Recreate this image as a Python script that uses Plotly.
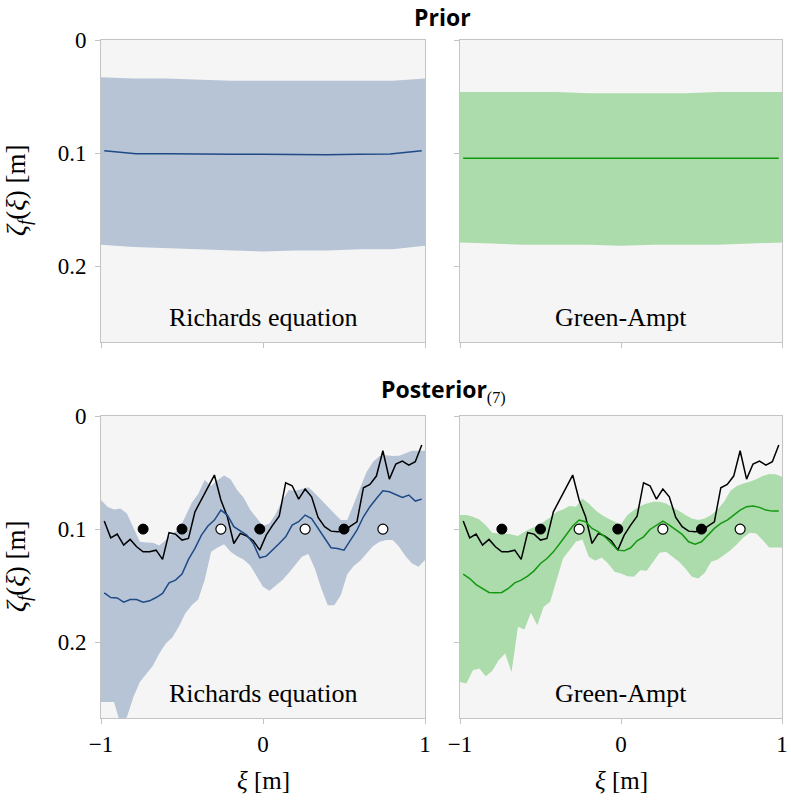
import numpy as np
import plotly.graph_objects as go

# ---------------- data ----------------
x_grid = np.round(np.linspace(-0.98, 0.98, 50), 4)      # cell centres
band_grid = np.round(np.linspace(-1.0, 1.0, 51), 4)     # band nodes
prior_grid = np.round(np.linspace(-1.0, 1.0, 11), 4)
prior_mean_grid = np.round(np.linspace(-0.98, 0.98, 11), 4)

truth = [0.0929, 0.1077, 0.1044, 0.1142, 0.1091, 0.1156, 0.1201, 0.1201, 0.1186, 0.1268,
         0.1032, 0.1044, 0.1097, 0.1083, 0.0847, 0.0743, 0.0631, 0.0522, 0.0743, 0.0891,
         0.1127, 0.1038, 0.1062, 0.1103, 0.1186, 0.1053, 0.0965, 0.0885, 0.0590, 0.0617,
         0.0735, 0.0646, 0.0714, 0.0897, 0.0979, 0.1018, 0.1024, 0.1018, 0.0973, 0.0935,
         0.0634, 0.0605, 0.0531, 0.0307, 0.0558, 0.0425, 0.0398, 0.0434, 0.0404, 0.0257]

obs_used_x = [-0.74, -0.50, -0.02, 0.50]
obs_used_y = [0.1, 0.1, 0.1, 0.1]
obs_test_x = [-0.26, 0.26, 0.74]
obs_test_y = [0.1, 0.1, 0.1]

# Prior
re_prior_mean = [0.098, 0.1005, 0.1005, 0.101, 0.101, 0.101, 0.1015, 0.1015, 0.101, 0.1008, 0.098]
re_prior_hi = [0.033, 0.034, 0.034, 0.035, 0.036, 0.036, 0.036, 0.036, 0.036, 0.036, 0.034]
re_prior_lo = [0.181, 0.183, 0.184, 0.185, 0.186, 0.187, 0.186, 0.186, 0.185, 0.185, 0.182]
ga_prior_mean = [0.1045, 0.1045, 0.1045, 0.105, 0.105, 0.105, 0.105, 0.105, 0.105, 0.1045, 0.1045]
ga_prior_hi = [0.046, 0.046, 0.046, 0.046, 0.047, 0.047, 0.047, 0.047, 0.046, 0.046, 0.046]
ga_prior_lo = [0.179, 0.180, 0.181, 0.181, 0.181, 0.182, 0.181, 0.181, 0.181, 0.180, 0.179]

# Posterior – Richards equation
re_post_mean = [0.1563, 0.1605, 0.1608, 0.1646, 0.1622, 0.1622, 0.1646, 0.1634, 0.1605, 0.1569,
                0.1475, 0.1451, 0.1398, 0.1268, 0.1171, 0.1053, 0.0973, 0.0920, 0.0832, 0.0876,
                0.0979, 0.1018, 0.1053, 0.1127, 0.1254, 0.1239, 0.1186, 0.1127, 0.1068, 0.0965,
                0.0935, 0.0876, 0.0906, 0.0994, 0.1074, 0.1165, 0.1171, 0.1186, 0.1097, 0.1009,
                0.0891, 0.0802, 0.0729, 0.0661, 0.0670, 0.0693, 0.0720, 0.0699, 0.0752, 0.0735]
re_post_hi = [0.0743, 0.0802, 0.0826, 0.0817, 0.0861, 0.0994, 0.1112, 0.1118, 0.1121, 0.1145,
              0.1097, 0.1038, 0.1003, 0.0891, 0.0767, 0.0690, 0.0566, 0.0619, 0.0566, 0.0525,
              0.0560, 0.0655, 0.0720, 0.0826, 0.0897, 0.0973, 0.0950, 0.0861, 0.0743, 0.0655,
              0.0661, 0.0649, 0.0631, 0.0684, 0.0743, 0.0808, 0.0870, 0.0920, 0.0920, 0.0773,
              0.0625, 0.0493, 0.0404, 0.0354, 0.0348, 0.0354, 0.0351, 0.0330, 0.0307, 0.0307, 0.0307]
re_post_lo = [0.2528, 0.2528, 0.2528, 0.2720, 0.2661, 0.2484, 0.2351, 0.2277, 0.2209, 0.2100,
              0.2012, 0.1959, 0.1864, 0.1746, 0.1673, 0.1622, 0.1451, 0.1201, 0.1162, 0.1133,
              0.1201, 0.1239, 0.1268, 0.1319, 0.1416, 0.1510, 0.1546, 0.1496, 0.1451, 0.1386,
              0.1319, 0.1245, 0.1221, 0.1348, 0.1525, 0.1673, 0.1673, 0.1584, 0.1398, 0.1327,
              0.1280, 0.1215, 0.1150, 0.1112, 0.1097, 0.1097, 0.1156, 0.1239, 0.1304, 0.1333, 0.1274]

# Posterior – Green-Ampt
ga_post_mean = [0.1398, 0.1437, 0.1490, 0.1525, 0.1560, 0.1563, 0.1560, 0.1525, 0.1475, 0.1451,
                0.1416, 0.1369, 0.1304, 0.1260, 0.1201, 0.1127, 0.1053, 0.0973, 0.0920, 0.0935,
                0.0994, 0.1024, 0.1068, 0.1127, 0.1186, 0.1192, 0.1165, 0.1103, 0.1068, 0.1003,
                0.0965, 0.0929, 0.0965, 0.1003, 0.1047, 0.1112, 0.1133, 0.1112, 0.1053, 0.0994,
                0.0950, 0.0920, 0.0876, 0.0832, 0.0802, 0.0796, 0.0808, 0.0832, 0.0841, 0.0841]
ga_post_hi = [0.0876, 0.0876, 0.0891, 0.0914, 0.0965, 0.1032, 0.1038, 0.1038, 0.1047, 0.1062,
              0.1024, 0.0994, 0.0973, 0.0935, 0.0897, 0.0847, 0.0826, 0.0796, 0.0802, 0.0729,
              0.0773, 0.0832, 0.0876, 0.0906, 0.0935, 0.0956, 0.0876, 0.0832, 0.0796, 0.0773,
              0.0758, 0.0758, 0.0773, 0.0808, 0.0838, 0.0876, 0.0906, 0.0920, 0.0906, 0.0876,
              0.0826, 0.0758, 0.0661, 0.0619, 0.0596, 0.0581, 0.0560, 0.0531, 0.0513, 0.0516, 0.0537]
ga_post_lo = [0.2351, 0.2366, 0.2248, 0.2233, 0.2301, 0.2254, 0.2159, 0.2100, 0.2263, 0.1864,
              0.1888, 0.1740, 0.1850, 0.1687, 0.1643, 0.1451, 0.1260, 0.1186, 0.1112, 0.1091,
              0.1245, 0.1280, 0.1251, 0.1304, 0.1378, 0.1392, 0.1416, 0.1422, 0.1363, 0.1369,
              0.1289, 0.1209, 0.1201, 0.1245, 0.1289, 0.1348, 0.1422, 0.1437, 0.1386, 0.1289,
              0.1268, 0.1230, 0.1186, 0.1133, 0.1074, 0.1032, 0.1038, 0.1097, 0.1162, 0.1162, 0.1162]

x_ticks = [-1, 0, 1]
x_ticktext = ["\u22121", "0", "1"]
y_ticks = [0, 0.1, 0.2]
y_ticktext = ["0", "0.1", "0.2"]

# ---------------- styles ----------------
BLUE_BAND = "#b7c4d6"
BLUE_LINE = "#1f4a86"
GREEN_BAND = "#acdbac"
GREEN_LINE = "#14980f"
PANEL_BG = "#f5f5f5"
EDGE = "#c4c4c4"
SERIF = "Liberation Serif"
SANS = "Open Sans"

fig = go.Figure()

def add_band(xg, lo, hi, color, xa, ya):
    xg = list(xg)
    fig.add_trace(go.Scatter(x=xg + xg[::-1], y=list(hi) + list(lo)[::-1],
                             fill="toself", fillcolor=color, mode="lines",
                             line=dict(width=0), hoverinfo="skip", showlegend=False,
                             xaxis=xa, yaxis=ya))

def add_line(xg, y, color, xa, ya, width=1.5):
    fig.add_trace(go.Scatter(x=list(xg), y=y, mode="lines", line=dict(color=color, width=width),
                             showlegend=False, xaxis=xa, yaxis=ya))

def add_obs(xa, ya):
    fig.add_trace(go.Scatter(x=obs_used_x, y=obs_used_y, mode="markers",
                             marker=dict(size=10, color="black", line=dict(color="black", width=1)),
                             showlegend=False, xaxis=xa, yaxis=ya, cliponaxis=False))
    fig.add_trace(go.Scatter(x=obs_test_x, y=obs_test_y, mode="markers",
                             marker=dict(size=10, color="white", line=dict(color="black", width=1.2)),
                             showlegend=False, xaxis=xa, yaxis=ya, cliponaxis=False))

# top-left: prior Richards
add_band(prior_grid, re_prior_lo, re_prior_hi, BLUE_BAND, "x", "y")
add_line(prior_mean_grid, re_prior_mean, BLUE_LINE, "x", "y")
# top-right: prior Green-Ampt
add_band(prior_grid, ga_prior_lo, ga_prior_hi, GREEN_BAND, "x2", "y2")
add_line(prior_mean_grid, ga_prior_mean, GREEN_LINE, "x2", "y2")
# bottom-left: posterior Richards
add_band(band_grid, re_post_lo, re_post_hi, BLUE_BAND, "x3", "y3")
add_line(x_grid, truth, "black", "x3", "y3")
add_line(x_grid, re_post_mean, BLUE_LINE, "x3", "y3")
add_obs("x3", "y3")
# bottom-right: posterior Green-Ampt
add_band(band_grid, ga_post_lo, ga_post_hi, GREEN_BAND, "x4", "y4")
add_line(x_grid, truth, "black", "x4", "y4")
add_line(x_grid, ga_post_mean, GREEN_LINE, "x4", "y4")
add_obs("x4", "y4")

W, H = 791, 803
xdom_l = [101 / W, 425 / W]
xdom_r = [460 / W, 782 / W]
ydom_t = [1 - 342 / H, 1 - 40 / H]
ydom_b = [1 - 718 / H, 1 - 416 / H]

def xax(dom, anchor, labels):
    return dict(domain=dom, anchor=anchor, range=[-1, 1], tickvals=x_ticks, ticktext=x_ticktext,
                showticklabels=labels, ticks="outside", ticklen=5, tickcolor=EDGE, tickwidth=1,
                showline=True, mirror=True, linecolor=EDGE, linewidth=1, showgrid=False,
                zeroline=False, automargin=False,
                tickfont=dict(family=SERIF, size=23, color="black"))

def yax(dom, anchor, labels):
    return dict(domain=dom, anchor=anchor, range=[0.267, 0], tickvals=y_ticks, ticktext=y_ticktext,
                showticklabels=labels, ticks="outside", ticklen=5, tickcolor=EDGE, tickwidth=1,
                showline=True, mirror=True, linecolor=EDGE, linewidth=1, showgrid=False,
                zeroline=False, automargin=False,
                tickfont=dict(family=SERIF, size=23, color="black"),
                ticklabelstandoff=4)

fig.update_layout(
    template="none",
    width=W, height=H,
    margin=dict(l=0, r=0, t=0, b=0, pad=0),
    font=dict(family=SERIF, color="black"),
    paper_bgcolor="white", plot_bgcolor=PANEL_BG,
    xaxis=xax(xdom_l, "y", False), yaxis=yax(ydom_t, "x", True),
    xaxis2=xax(xdom_r, "y2", False), yaxis2=yax(ydom_t, "x2", False),
    xaxis3=xax(xdom_l, "y3", True), yaxis3=yax(ydom_b, "x3", True),
    xaxis4=xax(xdom_r, "y4", True), yaxis4=yax(ydom_b, "x4", False),
)

ann = []
for xr, yr, txt in [("x", "y", "Richards equation"), ("x2", "y2", "Green-Ampt"),
                    ("x3", "y3", "Richards equation"), ("x4", "y4", "Green-Ampt")]:
    ann.append(dict(x=0, y=0.245, xref=xr, yref=yr, text=txt, showarrow=False,
                    font=dict(family=SERIF, size=26, color="black"), xanchor="center", yanchor="middle"))

ann.append(dict(x=442 / W, y=1 - 17 / H, xref="paper", yref="paper", text="<b>Prior</b>",
                showarrow=False, font=dict(family=SANS, size=23, color="black"),
                xanchor="center", yanchor="middle"))
ann.append(dict(x=443 / W, y=1 - 390 / H, xref="paper", yref="paper",
                text="<b>Posterior</b><sub><span style='font-family:Liberation Serif;fill:black'>(7)</span></sub>",
                showarrow=False, font=dict(family=SANS, size=23, color="black"),
                xanchor="center", yanchor="middle"))

ylab = "<i>\u03b6</i><sub><i>f</i></sub>(<i>\u03be</i>) [m]"
for yc in [(ydom_t[0] + ydom_t[1]) / 2, (ydom_b[0] + ydom_b[1]) / 2]:
    ann.append(dict(x=18 / W, y=yc, xref="paper", yref="paper", text=ylab, textangle=-90,
                    showarrow=False, font=dict(family=SERIF, size=27, color="black"),
                    xanchor="center", yanchor="middle"))

for xc in [263 / W, 621 / W]:
    ann.append(dict(x=xc, y=1 - 780 / H, xref="paper", yref="paper", text="<i>\u03be</i> [m]",
                    showarrow=False, font=dict(family=SERIF, size=25, color="black"),
                    xanchor="center", yanchor="middle"))

fig.update_layout(annotations=ann)
fig.write_html("out.html")
